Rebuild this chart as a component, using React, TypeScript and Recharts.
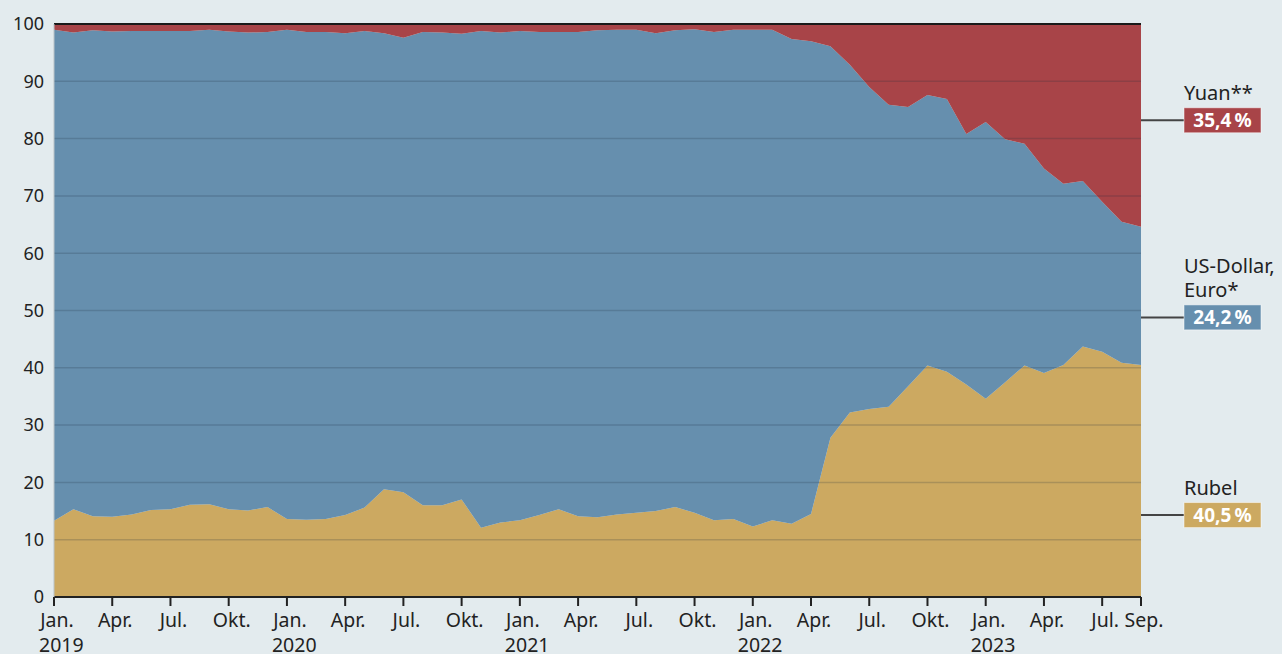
import React from "react";
import { AreaChart, Area, XAxis, YAxis, ReferenceLine } from "recharts";

const MONTH_SHORT = ["Jan.", "Feb.", "Mär.", "Apr.", "Mai", "Jun.", "Jul.", "Aug.", "Sep.", "Okt.", "Nov.", "Dez."];
const YEARS = [2019, 2020, 2021, 2022, 2023];
const TICK_MONTHS = ["Jan.", "Apr.", "Jul.", "Okt."];

// share in %, Jan. 2019 – Sep. 2023
const rubel = [
  13.3, 15.3, 14.1, 14.0, 14.4, 15.2, 15.3, 16.1, 16.2, 15.3, 15.1, 15.7,
  13.6, 13.5, 13.6, 14.3, 15.6, 18.8, 18.3, 16.0, 16.0, 17.0, 12.1, 13.0,
  13.4, 14.3, 15.3, 14.1, 13.9, 14.4, 14.7, 15.0, 15.7, 14.7, 13.4, 13.6,
  12.3, 13.4, 12.8, 14.5, 27.8, 32.2, 32.8, 33.2, 36.8, 40.4, 39.3, 37.1,
  34.6, 37.5, 40.4, 39.1, 40.5, 43.7, 42.8, 40.9, 40.5,
];
const usdEuro = [
  85.7, 83.2, 84.8, 84.7, 84.4, 83.6, 83.5, 82.7, 82.8, 83.4, 83.4, 82.9,
  85.4, 85.1, 85.0, 84.1, 83.2, 79.6, 79.3, 82.6, 82.5, 81.3, 86.7, 85.5,
  85.4, 84.3, 83.3, 84.5, 85.0, 84.6, 84.3, 83.4, 83.2, 84.4, 85.2, 85.4,
  86.7, 85.6, 84.6, 82.5, 68.3, 60.7, 56.2, 52.7, 48.7, 47.2, 47.6, 43.7,
  48.3, 42.4, 38.7, 35.7, 31.6, 28.9, 26.2, 24.6, 24.1,
];
const yuan = [
  1.0, 1.5, 1.1, 1.3, 1.2, 1.2, 1.2, 1.2, 1.0, 1.3, 1.5, 1.4,
  1.0, 1.4, 1.4, 1.6, 1.2, 1.6, 2.4, 1.4, 1.5, 1.7, 1.2, 1.5,
  1.2, 1.4, 1.4, 1.4, 1.1, 1.0, 1.0, 1.6, 1.1, 0.9, 1.4, 1.0,
  1.0, 1.0, 2.6, 3.0, 3.9, 7.1, 11.0, 14.1, 14.5, 12.4, 13.1, 19.2,
  17.1, 20.1, 20.9, 25.2, 27.9, 27.4, 31.0, 34.5, 35.4,
];

const yTicks = [0, 10, 20, 30, 40, 50, 60, 70, 80, 90, 100];
const gridValues = [10, 20, 30, 40, 50, 60, 70, 80, 90];

// right-hand labels: title lines, value text, anchor on the y scale, colour
const sideLabels = [
  { title: ["Yuan**"], value: "35,4\u2009%", at: 83.2, color: "#a84448" },
  { title: ["US-Dollar,", "Euro*"], value: "24,2\u2009%", at: 48.8, color: "#668fae" },
  { title: ["Rubel"], value: "40,5\u2009%", at: 14.3, color: "#cca961" },
];

const months: string[] = [];
YEARS.forEach((y) => MONTH_SHORT.forEach((m) => months.push(`${m} ${y}`)));
const categories = months.slice(0, rubel.length);

const data = categories.map((month, i) => ({
  month,
  rubel: rubel[i],
  usd: usdEuro[i],
  yuan: yuan[i],
}));

const MonthTick = (props: any) => {
  const { x, y, payload, index } = props;
  const [m, yr] = String(payload.value).split(" ");
  const last = index === categories.length - 1;
  if (!TICK_MONTHS.includes(m) && !last) return null;
  return (
    <g>
      <line x1={x} x2={x} y1={y} y2={y + 9} stroke="#222" strokeWidth={2} />
      <text x={x + 3} y={y + 30} textAnchor="middle" fontSize={19.5} fill="#222">
        {m}
      </text>
      {m === "Jan." && (
        <text x={x - 15} y={y + 55} textAnchor="start" fontSize={19.5} fill="#222">
          {yr}
        </text>
      )}
    </g>
  );
};

const SideLabel = ({ viewBox, title, value, color }: any) => {
  if (!viewBox) return null;
  const x0 = viewBox.x + viewBox.width;
  const y = viewBox.y;
  const bx = x0 + 43;
  return (
    <g>
      <line x1={x0} x2={bx} y1={y} y2={y} stroke="#444" strokeWidth={2} />
      {title.map((t: string, i: number) => (
        <text key={t} x={bx} y={y - 20 - (title.length - 1 - i) * 24} fontSize={20} fill="#222">
          {t}
        </text>
      ))}
      <rect x={bx} y={y - 12.5} width={77} height={25} fill={color} stroke="rgba(255,255,255,0.5)" />
      <text x={bx + 38.5} y={y + 7} textAnchor="middle" fontSize={19} fontWeight="bold" fill="#fff">
        {value}
      </text>
    </g>
  );
};

export default function App() {
  return (
    <div
      style={{
        position: "absolute",
        left: 0,
        top: 0,
        width: 1282,
        height: 654,
        background: "#e3ebee",
        fontFamily: "'Noto Sans', sans-serif",
      }}
    >
      <AreaChart width={1282} height={654} data={data} margin={{ top: 24, right: 141, bottom: 0, left: 0 }}>
        <XAxis
          dataKey="month"
          interval={0}
          tickLine={false}
          tickSize={0}
          tickMargin={0}
          height={57}
          axisLine={{ stroke: "#222", strokeWidth: 2 }}
          tick={<MonthTick />}
        />
        <YAxis
          type="number"
          domain={[0, 100]}
          ticks={yTicks}
          width={54}
          tickLine={false}
          tickSize={0}
          tickMargin={10}
          axisLine={{ stroke: "#b9c3c8" }}
          tick={{ fontSize: 18, fill: "#222" }}
        />
        <Area dataKey="rubel" stackId="a" type="linear" stroke="none" fill="#cca961" fillOpacity={1} isAnimationActive={false} />
        <Area dataKey="usd" stackId="a" type="linear" stroke="none" fill="#668fae" fillOpacity={1} isAnimationActive={false} />
        <Area dataKey="yuan" stackId="a" type="linear" stroke="none" fill="#a84448" fillOpacity={1} isAnimationActive={false} />
        {gridValues.map((v) => (
          <ReferenceLine key={v} y={v} stroke="rgba(30,45,60,0.2)" strokeWidth={1.5} />
        ))}
        <ReferenceLine y={100} stroke="#1a1a1a" strokeWidth={2} />
        {sideLabels.map((s) => (
          <ReferenceLine
            key={s.value}
            y={s.at}
            stroke="none"
            label={(p: any) => <SideLabel {...p} title={s.title} value={s.value} color={s.color} />}
          />
        ))}
      </AreaChart>
    </div>
  );
}
